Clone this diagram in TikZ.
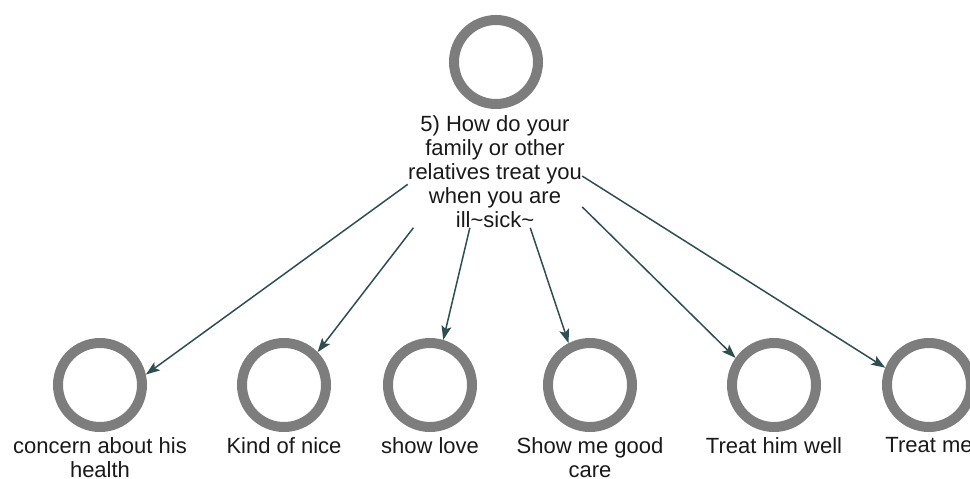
\documentclass[tikz,border=0pt]{standalone}
\usepackage{fontspec}
\setmainfont{Liberation Sans}
\usetikzlibrary{arrows.meta,fit,intersections}
\definecolor{ringgray}{RGB}{125,125,125}
\definecolor{arrowcol}{RGB}{47,79,79}
\begin{document}
\begin{tikzpicture}[x=1pt,y=-1pt,
  ring/.style={circle, draw=ringgray, line width=10pt, minimum size=84pt, inner sep=0pt},
  lbl/.style={anchor=north, inner sep=0pt, align=center, font=\fontsize{22}{24}\selectfont, text=black!90},
  grp/.style={inner sep=0pt},
  arr/.style={draw=arrowcol, line width=1.5pt, -{Stealth[length=14pt,width=10pt,inset=3pt]}}]
\useasboundingbox (0,0) rectangle (970,479);
\node[ring] (c0) at (496,62) {};
\node[lbl] (l0) at (495,115) {5) How do your\\family or other\\relatives treat you\\when you are\\ill\textasciitilde sick\textasciitilde};
\node[grp, fit=(c0)(l0)] (g0) {};
\foreach \i/\cx/\t in {1/100/{concern about his\\health}, 2/284/{Kind of nice}, 3/430/{show love}, 4/590/{Show me good\\care}, 5/774/{Treat him well}, 6/929/{Treat me}} {
  \node[ring] (c\i) at (\cx,385) {};
  \node[lbl] (l\i) at (\cx,437) {\t};
  \node[grp, fit=(c\i)(l\i)] (g\i) {};
  \path[name path=ringpath] (c\i.center) circle[radius=47pt];
  \path[name path=linkpath] (g0.center) -- (g\i.center);
  \path[name intersections={of=ringpath and linkpath, by={e\i}}];
  \draw[arr] (g0) -- (e\i);
}
\end{tikzpicture}
\end{document}
